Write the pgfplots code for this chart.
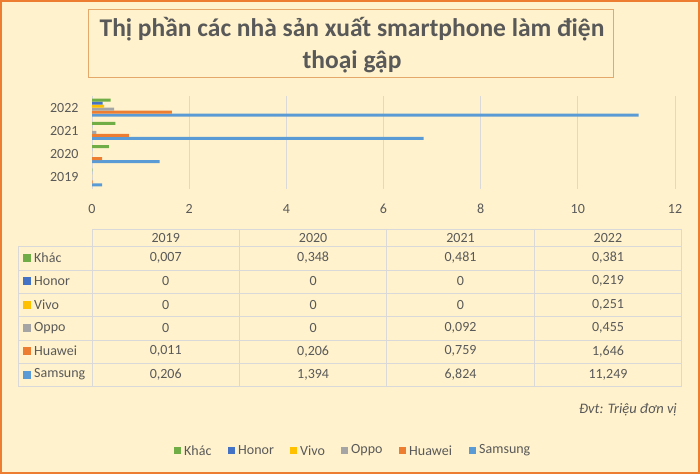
\documentclass[border=0pt]{standalone}
\usepackage{fontspec}
\setmainfont{Carlito}
\usepackage{pgfplots}
\usepackage{pgfplotstable}
\pgfplotsset{compat=1.18}

\definecolor{bg}{HTML}{FFF2CC}
\definecolor{frame}{HTML}{ED7D31}
\definecolor{titleframe}{HTML}{E3A86A}
\definecolor{txt}{HTML}{595959}
\definecolor{gridc}{HTML}{D9D9D9}
\definecolor{cKhac}{HTML}{70AD47}
\definecolor{cHonor}{HTML}{4472C4}
\definecolor{cVivo}{HTML}{FFC000}
\definecolor{cOppo}{HTML}{A5A5A5}
\definecolor{cHuawei}{HTML}{ED7D31}
\definecolor{cSamsung}{HTML}{5B9BD5}

% trieu don vi, y: 0=2019 ... 3=2022
\pgfplotstableread{
y Khac Honor Vivo Oppo Huawei Samsung
0 0.007 0     0     0     0.011 0.206
1 0.348 0     0     0     0.206 1.394
2 0.481 0     0     0.092 0.759 6.824
3 0.381 0.219 0.251 0.455 1.646 11.249
}\data

\begin{document}
\begin{tikzpicture}[font=\fontsize{14}{16}\selectfont]
\begin{scope}[x=1pt,y=1pt]
% nen va khung
\fill[bg] (0,0) rectangle (700,474);
\draw[frame,line width=2pt] (1,1) rectangle (699,473);

% tieu de
\draw[titleframe,line width=1pt,fill=bg] (88.5,396.5) rectangle (613,464);
\node[txt,anchor=base,inner sep=0pt,font=\fontsize{25.5}{30}\selectfont\bfseries] at (352,437.3)
  {Thị phần các nhà sản xuất smartphone làm điện};
\node[txt,anchor=base,inner sep=0pt,font=\fontsize{25.5}{30}\selectfont\bfseries] at (352,405.7)
  {thoại gập};

% bang du lieu
\draw[gridc,line width=0.8pt] (92,245) -- (681.7,245);
\foreach \yy in {227.3,204,180.7,157.3,134,110.7,88}
  \draw[gridc,line width=0.8pt] (18,\yy) -- (681.7,\yy);
\draw[gridc,line width=0.8pt] (18,227.3) -- (18,88);
\foreach \xx in {92,239.4,386.8,534.3,681.7}
  \draw[gridc,line width=0.8pt] (\xx,245) -- (\xx,88);
\foreach \yr [count=\i from 0] in {2019,2020,2021,2022}
  \node[txt] at (165.7+147.4*\i,236.2) {\yr};
\foreach \name/\col/\a/\b/\c/\d [count=\r from 0] in {
  Khác/cKhac/{0,007}/{0,348}/{0,481}/{0,381},
  Honor/cHonor/0/0/0/{0,219},
  Vivo/cVivo/0/0/0/{0,251},
  Oppo/cOppo/0/0/{0,092}/{0,455},
  Huawei/cHuawei/{0,011}/{0,206}/{0,759}/{1,646},
  Samsung/cSamsung/{0,206}/{1,394}/{6,824}/{11,249}}{
  \pgfmathsetmacro{\yc}{216-23.3*\r}
  \fill[\col] (23,\yc-4) rectangle (31,\yc+4);
  \node[txt,anchor=west,inner sep=0pt] at (34,\yc) {\name};
  \node[txt] at (165.7,\yc) {\a};
  \node[txt] at (313.1,\yc) {\b};
  \node[txt] at (460.5,\yc) {\c};
  \node[txt] at (608,\yc) {\d};
}

\node[txt,anchor=east,inner sep=0pt,font=\fontsize{14.5}{16}\selectfont\itshape] at (677,64) {Đvt: Triệu đơn vị};

% chu thich
\foreach \name/\col/\xx in {Khác/cKhac/174,Honor/cHonor/228,Vivo/cVivo/290,Oppo/cOppo/341,Huawei/cHuawei/399,Samsung/cSamsung/469}{
  \fill[\col] (\xx,20) rectangle (\xx+7,27);
  \node[txt,anchor=west,inner sep=0pt] at (\xx+10,23.5) {\name};
}
\end{scope}

\begin{axis}[
  at={(92pt,285pt)}, anchor=south west,
  width=583pt, height=93pt, scale only axis,
  xbar, bar width=3pt,
  xmin=0, xmax=12, xtick={0,2,...,12},
  ymin=-0.5, ymax=3.5, ytick={0,1,2,3},
  yticklabels={2019,2020,2021,2022},
  axis line style={draw=none},
  major tick style={draw=none},
  xmajorgrids, grid style={gridc,line width=0.8pt},
  ticklabel style={txt,font=\fontsize{14}{16}\selectfont},
  /pgf/number format/assume math mode=true,
  yticklabel style={inner sep=0pt,xshift=-9pt},
  xticklabel style={inner sep=0pt,yshift=-15pt},
]
\addplot[draw=none,fill=cSamsung,bar shift=-7.5pt] table[x=Samsung,y=y]{\data};
\addplot[draw=none,fill=cHuawei,bar shift=-4.5pt] table[x=Huawei,y=y]{\data};
\addplot[draw=none,fill=cOppo,bar shift=-1.5pt] table[x=Oppo,y=y]{\data};
\addplot[draw=none,fill=cVivo,bar shift=1.5pt] table[x=Vivo,y=y]{\data};
\addplot[draw=none,fill=cHonor,bar shift=4.5pt] table[x=Honor,y=y]{\data};
\addplot[draw=none,fill=cKhac,bar shift=7.5pt] table[x=Khac,y=y]{\data};
\end{axis}
\end{tikzpicture}
\end{document}
